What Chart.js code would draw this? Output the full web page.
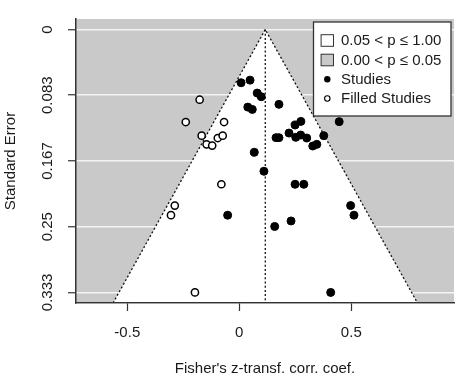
<!DOCTYPE html>
<html><head><meta charset="utf-8">
<script src="https://cdn.jsdelivr.net/npm/chart.js@4.4.0/dist/chart.umd.min.js"></script>
<style>html,body{margin:0;padding:0;background:#fff}#wrap{width:474px;height:379px}</style>
</head><body><div id="wrap"><canvas id="c" width="474" height="379"></canvas></div>
<script>
// ---- data ----
const studyZ  = [0.008,0.048,0.080,0.098,0.038,0.058,0.067,0.177,0.446,0.275,0.249,0.222,0.164,0.177,0.252,0.274,0.301,0.328,0.346,0.377,0.110,-0.052,0.249,0.288,0.497,0.512,0.231,0.158,0.408];
const studySE = [0.0675,0.0642,0.0806,0.0852,0.0984,0.1013,0.1557,0.0949,0.1168,0.1165,0.1211,0.1313,0.1371,0.1371,0.1367,0.1338,0.1376,0.1477,0.1456,0.1346,0.1797,0.2354,0.1962,0.1962,0.2232,0.2354,0.2427,0.2497,0.3333];
const filledZ  = [-0.177,-0.239,-0.068,-0.168,-0.096,-0.074,-0.146,-0.121,-0.080,-0.288,-0.305,-0.198];
const filledSE = [0.089,0.1173,0.1173,0.1346,0.1376,0.1346,0.1456,0.1472,0.1962,0.2232,0.2354,0.3333];
const estimate = 0.116;
const zCrit = 1.96;
const seTicks = [0, 0.0833, 0.1667, 0.25, 0.3333];
const seTickLabels = ["0","0.083","0.167","0.25","0.333"];
const zTicks = [-0.5, 0, 0.5];
const zTickLabels = ["-0.5","0","0.5"];
const seRange = [-0.0133, 0.3467];
const zRange = [-0.729, 0.9585];
const legendLabels = ["0.05 < p \u2264 1.00","0.00 < p \u2264 0.05","Studies","Filled Studies"];

// ---- chart ----
const FONT = "'Liberation Sans', Arial, Helvetica, sans-serif";
const TXT = '#1a1a1a';
const AX = '#333333';
const GREY = '#c9c9c9';
const seMax = seRange[1];
const funnel = [
  {x: estimate - zCrit*seMax, y: seMax},
  {x: estimate, y: 0},
  {x: estimate + zCrit*seMax, y: seMax}
];
const centerLine = [{x: estimate, y: 0}, {x: estimate, y: seMax}];

const bgPlugin = {id:'bg', beforeDraw(chart){
  const {ctx, chartArea:a} = chart;
  ctx.save(); ctx.fillStyle = GREY;
  ctx.fillRect(a.left, a.top, a.right-a.left, a.bottom-a.top);
  ctx.restore();
}};
const borderPlugin = {id:'bd', afterDatasetsDraw(chart){
  for (const s of [chart.scales.x, chart.scales.y]) {
    if (typeof s.drawBorder === 'function') { chart.ctx.save(); s.drawBorder(); chart.ctx.restore(); }
  }
}};
const legendPlugin = {id:'lg', afterDraw(chart){
  const ctx = chart.ctx;
  ctx.save();
  const bx = 313.5, by = 22, bw = 137.5, bh = 94;
  ctx.fillStyle = '#fff'; ctx.fillRect(bx, by, bw, bh);
  ctx.strokeStyle = AX; ctx.lineWidth = 1.3; ctx.strokeRect(bx, by, bw, bh);
  const rows = [40.5, 60, 79.3, 98.5];
  const sx = 327.3;
  [ '#fff', GREY ].forEach((c, i) => {
    ctx.fillStyle = c; ctx.fillRect(sx-6.2, rows[i]-5.8, 12.4, 11.6);
    ctx.strokeStyle = AX; ctx.lineWidth = 1; ctx.strokeRect(sx-6.2, rows[i]-5.8, 12.4, 11.6);
  });
  ctx.beginPath(); ctx.arc(sx, rows[2], 3.2, 0, Math.PI*2); ctx.fillStyle = '#000'; ctx.fill();
  ctx.beginPath(); ctx.arc(sx, rows[3], 2.7, 0, Math.PI*2); ctx.fillStyle = '#fff'; ctx.fill();
  ctx.strokeStyle = '#000'; ctx.lineWidth = 1.1; ctx.stroke();
  ctx.font = '15px ' + FONT; ctx.fillStyle = TXT; ctx.textBaseline = 'middle'; ctx.textAlign = 'left';
  legendLabels.forEach((t, i) => ctx.fillText(t, 341, rows[i] + 0.5));
  ctx.restore();
}};

new Chart(document.getElementById('c'), {
  type: 'scatter',
  data: { datasets: [
    { type:'line', label:'funnel', data: funnel, fill:'shape', backgroundColor:'#ffffff',
      borderColor:'#111', borderWidth:1.3, borderDash:[2,2.2], pointRadius:0, tension:0, order:5 },
    { type:'line', label:'estimate', data: centerLine, fill:false,
      borderColor:'#111', borderWidth:1.3, borderDash:[2,2.2], pointRadius:0, order:4 },
    { label:'Studies', data: studyZ.map((z,i)=>({x:z, y:studySE[i]})),
      pointRadius:4, backgroundColor:'#000', borderColor:'#000', borderWidth:1, order:1 },
    { label:'Filled Studies', data: filledZ.map((z,i)=>({x:z, y:filledSE[i]})),
      pointRadius:3.6, backgroundColor:'#fff', borderColor:'#000', borderWidth:1.5, order:0 }
  ]},
  options: {
    responsive:false, animation:false, devicePixelRatio:1,
    layout:{ padding:{ top:19, right:20, left:0, bottom:0 } },
    plugins:{ legend:{display:false}, tooltip:{enabled:false} },
    scales:{
      x:{ type:'linear', min:zRange[0], max:zRange[1],
        afterBuildTicks: s => { s.ticks = zTicks.map(v => ({value:v})); },
        afterFit: s => { s.height = 76; },
        grid:{ drawOnChartArea:false, drawTicks:true, tickLength:8, tickColor:AX, tickWidth:1.2 },
        border:{ display:true, color:AX, width:1.3 },
        ticks:{ font:{family:FONT, size:15}, color:TXT, padding:13, minRotation:0, maxRotation:0,
          callback:(v,i) => zTickLabels[i] },
        title:{ display:true, text:"Fisher's z-transf. corr. coef.", font:{family:FONT, size:15}, color:TXT,
          padding:{top:0, bottom:1} }
      },
      y:{ type:'linear', reverse:true, min:seRange[0], max:seRange[1],
        afterBuildTicks: s => { s.ticks = seTicks.map(v => ({value:v})); },
        afterFit: s => { s.width = 76; },
        grid:{ color:'#f4f4f4', lineWidth:1.5, drawTicks:true, tickLength:8, tickColor:AX, tickWidth:1.2 },
        border:{ display:true, color:AX, width:1.3 },
        ticks:{ font:{family:FONT, size:15}, color:TXT, padding:1, minRotation:90, maxRotation:90,
          crossAlign:'center', callback:(v,i) => seTickLabels[i] },
        title:{ display:true, text:'Standard Error', font:{family:FONT, size:15}, color:TXT,
          padding:{top:2, bottom:0} }
      }
    }
  },
  plugins:[bgPlugin, borderPlugin, legendPlugin]
});
</script></body></html>
